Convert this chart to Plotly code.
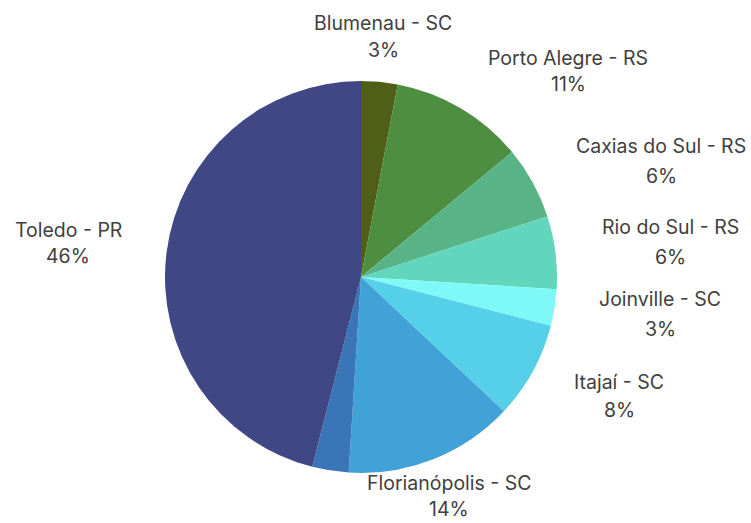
import plotly.graph_objects as go

W, H = 751, 523

cities = ["Blumenau - SC", "Porto Alegre - RS", "Caxias do Sul - RS", "Rio do Sul - RS",
          "Joinville - SC", "Itajaí - SC", "Florianópolis - SC", "", "Toledo - PR"]
shares = [3, 11, 6, 6, 3, 8, 14, 3, 46]
colors = ["#4f5f17", "#4e8e40", "#58b487", "#62d6bd", "#7ef9f8", "#56cfe9",
          "#40a2d6", "#3a76b7", "#3f4784"]

# label placement (window pixels): x centre, name-line y, percent-line y
label_px = [(383, 25, 52), (568, 60, 86), (661, 148, 178), (670, 229, 259),
            (660, 301, 331), (619, 384, 412), (449, 485, 511), None, (68, 232, 258)]

cx, cy, r = 361, 277, 196

fig = go.Figure(go.Pie(
    labels=[c if c else "Outros" for c in cities],
    values=shares,
    sort=False,
    direction="clockwise",
    rotation=0,
    marker=dict(colors=colors, line=dict(width=0)),
    textinfo="none",
    hoverinfo="label+percent",
    showlegend=False,
    domain=dict(x=[(cx - r) / W, (cx + r) / W],
                y=[(H - cy - r) / H, (H - cy + r) / H]),
))

total = sum(shares)
anns = []
font = dict(family="Inter, Open Sans, sans-serif", size=19.5, color="#404040")
for name, v, pos in zip(cities, shares, label_px):
    if not name or pos is None:
        continue
    x, yn, yp = pos
    for y, txt in ((yn, name), (yp, f"{round(100 * v / total)}%")):
        anns.append(dict(x=x / W, y=1 - (y - 2) / H, xref="paper", yref="paper",
                         text=txt, showarrow=False, font=font,
                         xanchor="center", yanchor="middle"))

fig.update_layout(
    width=W, height=H,
    margin=dict(l=0, r=0, t=0, b=0),
    paper_bgcolor="white", plot_bgcolor="white",
    annotations=anns,
)

fig.write_html("out.html", config={"displayModeBar": False},
               post_script="document.body.style.margin='0';")
